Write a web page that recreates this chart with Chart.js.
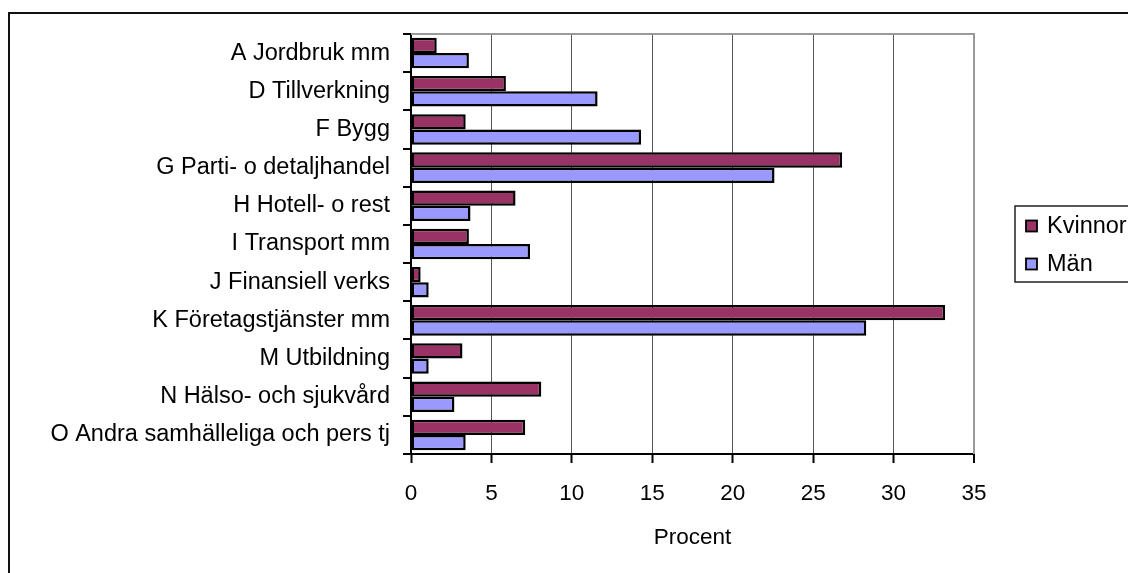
<!DOCTYPE html>
<html>
<head>
<meta charset="utf-8">
<script src="https://cdn.jsdelivr.net/npm/chart.js@4/dist/chart.umd.min.js"></script>
<style>
  html, body { margin: 0; padding: 0; background: #fff; overflow: hidden; width: 1128px; height: 573px; }
  #frame { position: absolute; left: 8px; top: 12px; width: 2000px; height: 2000px;
           border-top: 2px solid #111; border-left: 2px solid #111; }
  #c { position: absolute; left: 0; top: 0; }
</style>
</head>
<body>
<div id="frame"></div>
<canvas id="c" width="1128" height="573"></canvas>
<script>
const categories = [
  "A Jordbruk mm",
  "D Tillverkning",
  "F Bygg",
  "G Parti- o detaljhandel",
  "H Hotell- o rest",
  "I Transport mm",
  "J Finansiell verks",
  "K Företagstjänster mm",
  "M Utbildning",
  "N Hälso- och sjukvård",
  "O Andra samhälleliga och pers tj"
];
const kvinnor = [1.6, 5.9, 3.4, 26.8, 6.5, 3.6, 0.6, 33.2, 3.2, 8.1, 7.1];
const man     = [3.6, 11.6, 14.3, 22.6, 3.7, 7.4, 1.1, 28.3, 1.1, 2.7, 3.4];
const seriesNames = ["Kvinnor", "Män"];
const xTicks = [0, 5, 10, 15, 20, 25, 30, 35];
const xTitle = "Procent";

const FONT = "'Liberation Sans', Arial, sans-serif";

const plotFrame = {
  id: 'plotFrame',
  beforeDatasetsDraw(chart) {
    const {ctx, chartArea: a} = chart;
    ctx.save();
    ctx.strokeStyle = '#9a9a9a';
    ctx.lineWidth = 2;
    ctx.beginPath();
    ctx.moveTo(a.left, a.top);
    ctx.lineTo(a.right, a.top);
    ctx.lineTo(a.right, a.bottom);
    ctx.stroke();
    ctx.restore();
  }
};

const boxLegend = {
  id: 'boxLegend',
  afterDraw(chart) {
    const {ctx} = chart;
    ctx.save();
    ctx.strokeStyle = '#222';
    ctx.lineWidth = 1.5;
    ctx.strokeRect(1015, 206, 200, 76);
    ctx.font = "23.5px " + FONT;
    ctx.textBaseline = 'middle';
    ctx.textAlign = 'left';
    chart.data.datasets.forEach((ds, i) => {
      const cy = 226 + i * 38;
      ctx.fillStyle = ds.backgroundColor;
      ctx.fillRect(1026, cy - 5.5, 11, 11);
      ctx.strokeStyle = '#000';
      ctx.lineWidth = 1.8;
      ctx.strokeRect(1026, cy - 5.5, 11, 11);
      ctx.fillStyle = '#000';
      ctx.fillText(ds.label, 1047, cy + 1);
    });
    ctx.restore();
  }
};

new Chart(document.getElementById('c'), {
  type: 'bar',
  data: {
    labels: categories,
    datasets: [
      { label: seriesNames[0], data: kvinnor, backgroundColor: '#993366', borderColor: '#000', borderWidth: 2.5, borderSkipped: false },
      { label: seriesNames[1], data: man, backgroundColor: '#9999FF', borderColor: '#000', borderWidth: 2.5, borderSkipped: false }
    ]
  },
  options: {
    indexAxis: 'y',
    responsive: false,
    animation: false,
    devicePixelRatio: 1,
    categoryPercentage: 0.8,
    barPercentage: 1.0,
    layout: { padding: { left: 0, right: 154, top: 34, bottom: 0 } },
    plugins: { legend: { display: false }, tooltip: { enabled: false }, title: { display: false } },
    scales: {
      x: {
        type: 'linear',
        min: 0, max: 35,
        afterBuildTicks(scale) { scale.ticks = xTicks.map(v => ({ value: v })); },
        afterFit(scale) { scale.height = 573 - 454; },
        ticks: { color: '#000', font: { family: FONT, size: 22.5 }, padding: 17 },
        grid: {
          color: ctx => ctx.index === xTicks.length - 1 ? '#9a9a9a' : (ctx.index === 0 ? '#000' : '#555'),
          lineWidth: ctx => ctx.index === xTicks.length - 1 ? 2 : 1,
          tickColor: '#000',
          tickLength: 9,
          tickWidth: 2
        },
        border: { color: '#000', width: 2 },
        title: { display: true, text: xTitle, color: '#000', font: { family: FONT, size: 22.5 }, padding: { top: 0, bottom: 22 } }
      },
      y: {
        type: 'category',
        afterFit(scale) { scale.width = 411; },
        ticks: { color: '#000', font: { family: FONT, size: 23.5 }, padding: 13, autoSkip: false },
        grid: { drawOnChartArea: false, drawTicks: true, tickLength: 8, color: '#000', tickColor: '#000', lineWidth: 2 },
        border: { color: '#000', width: 2 }
      }
    }
  },
  plugins: [plotFrame, boxLegend]
});
</script>
</body>
</html>
